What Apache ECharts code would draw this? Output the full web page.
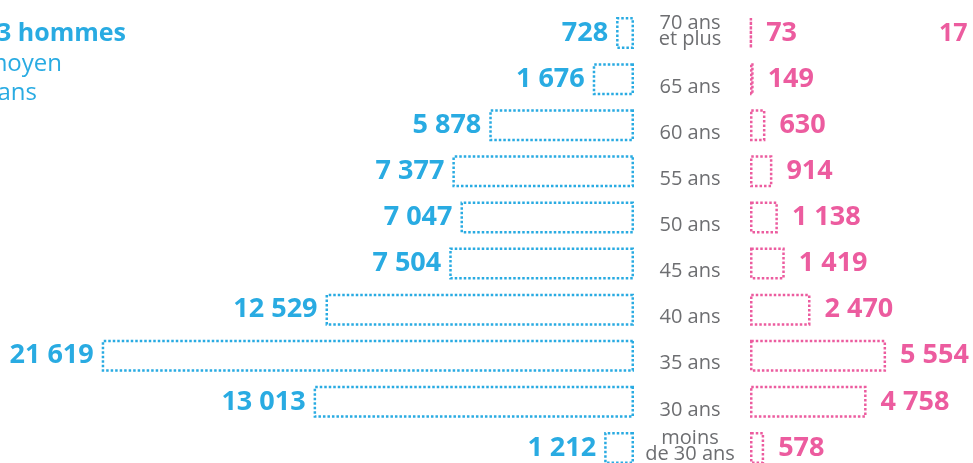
<!DOCTYPE html>
<html><head><meta charset="utf-8">
<script src="https://cdn.jsdelivr.net/npm/echarts@6/dist/echarts.min.js"></script>
<style>html,body{margin:0;padding:0;background:#fff}#c{width:973px;height:463px}</style>
</head><body><div id="c"></div>
<script>
const ages = ['70 ans\net plus','65 ans','60 ans','55 ans','50 ans','45 ans','40 ans','35 ans','30 ans','moins\nde 30 ans'];
const hommes = [728,1676,5878,7377,7047,7504,12529,21619,13013,1212];
const femmes = [73,149,630,914,1138,1419,2470,5554,4758,578];
const titleH = ['78 583 hommes','âge moyen','44 ans'];
const titleF = ['17 683 femmes'];

const BLUE = '#29abe2', PINK = '#ec5c9f', GREY = '#6d6e71';
const FONT = '"Open Sans", sans-serif';
const fmt = v => String(v).replace(/\B(?=(\d{3})+(?!\d))/g, ' ');

const chart = echarts.init(document.getElementById('c'));
const barCommon = (color, pos, dist) => ({
  type: 'bar', barWidth: 32,
  itemStyle: {color: 'rgba(255,255,255,0)', borderColor: color, borderWidth: 2.5, borderType: [2.5, 2]},
  label: {show: true, position: pos, distance: dist, color: color, fontFamily: FONT, fontWeight: 'bold', fontSize: 27,
          formatter: p => fmt(p.value)},
  silent: true, animation: false
});
chart.setOption({
  animation: false,
  grid: [
    {left: 0, width: 634, top: 10, height: 461, outerBoundsMode: 'none', containLabel: false},
    {left: 750, width: 223, top: 10, height: 461, outerBoundsMode: 'none', containLabel: false}
  ],
  xAxis: [
    {gridIndex: 0, type: 'value', inverse: true, min: 0, max: 25750, show: false},
    {gridIndex: 1, type: 'value', min: 0, max: 9102, show: false}
  ],
  yAxis: [
    {gridIndex: 0, type: 'category', inverse: true, data: ages, show: false},
    {gridIndex: 1, type: 'category', inverse: true, data: ages,
     axisLine: {show: false}, axisTick: {show: false},
     axisLabel: {show: true, align: 'center', margin: 60, color: GREY, fontFamily: FONT, fontSize: 20,
       formatter: v => v.indexOf('\n') >= 0
         ? v.split('\n').map((s, i) => i === 0 ? '{b|' + s + '}' : '{c|' + s + '}').join('\n')
         : '{a|' + v + '}',
       rich: {
         a: {fontFamily: FONT, fontSize: 20, color: GREY, padding: [16, 0, 0, 0]},
         b: {fontFamily: FONT, fontSize: 20, color: GREY, lineHeight: 19},
         c: {fontFamily: FONT, fontSize: 20, color: GREY, lineHeight: 19, padding: [0, 0, 7, 0]}
       }}}
  ],
  series: [
    Object.assign(barCommon(BLUE, 'left', 8), {xAxisIndex: 0, yAxisIndex: 0, data: hommes}),
    Object.assign(barCommon(PINK, 'right', 14), {xAxisIndex: 1, yAxisIndex: 1, data: femmes})
  ],
  graphic: [
    {type: 'text', right: 973 - 126, top: 21, style: {text: titleH[0], fill: BLUE, font: 'bold 25px ' + FONT}},
    {type: 'text', right: 973 - 62, top: 52, style: {text: titleH[1], fill: BLUE, font: '24px ' + FONT}},
    {type: 'text', right: 973 - 37, top: 81, style: {text: titleH[2], fill: BLUE, font: '24px ' + FONT}},
    {type: 'text', left: 939, top: 21, style: {text: titleF[0], fill: PINK, font: 'bold 25px ' + FONT}}
  ]
});
</script></body></html>
